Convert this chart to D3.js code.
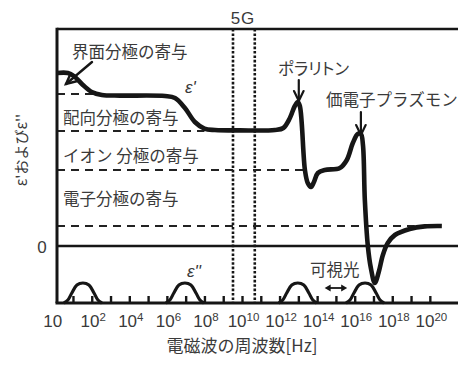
<!DOCTYPE html>
<html><head><meta charset="utf-8">
<script src="https://cdn.jsdelivr.net/npm/d3@7"></script>
<style>
html,body{margin:0;padding:0;background:#fff;}
svg{display:block;}
text{font-family:"Noto Sans CJK JP","Noto Sans",sans-serif;fill:#3a3a3a;}
</style></head><body>
<svg id="chart" width="458" height="365"></svg>
<script>
// Frequency axis is log10(f); values are in arbitrary permittivity units.
// ε' (real part) as [log10 f, value]
const epsReal = [
  [0.15, 8.65], [0.73, 8.65], [1.05, 8.5], [1.53, 8.05], [2.0, 7.7], [2.54, 7.55],
  [3.5, 7.52], [5.9, 7.5], [6.43, 7.4], [6.96, 6.9], [7.49, 6.2], [8.0, 5.87],
  [8.56, 5.8], [9.9, 5.78], [11.75, 5.8], [12.2, 5.9], [12.55, 6.4], [12.81, 7.0],
  [12.97, 7.2], [13.08, 7.0], [13.35, 3.8], [13.5, 3.15], [13.67, 2.95], [13.83, 3.2],
  [14.04, 3.65], [14.41, 3.8], [15.21, 3.9], [15.58, 4.3], [15.9, 5.15], [16.16, 5.6],
  [16.33, 5.6], [16.44, 5.05], [16.54, 2.3], [16.7, 0], [16.86, -1.1], [17.07, -1.85],
  [17.28, -1.3], [17.5, -0.45], [17.76, 0.15], [18.14, 0.55], [18.93, 0.85],
  [19.73, 0.98], [20.64, 1.0]
];
// ε'' (imaginary part) loss peaks, height above the baseline
const lossPeakInterface = [[0.52,0],[0.73,0.15],[0.94,0.5],[1.21,0.9],[1.53,1.0],[1.85,0.9],[2.12,0.5],[2.33,0.15],[2.54,0]];
const lossPeakDipole    = [[5.95,0],[6.16,0.15],[6.37,0.5],[6.64,0.9],[6.96,1.0],[7.28,0.9],[7.55,0.5],[7.76,0.15],[7.97,0]];
const lossPeakIonic     = [[11.96,0],[12.17,0.15],[12.38,0.5],[12.65,0.9],[12.97,1.0],[13.29,0.9],[13.56,0.5],[13.77,0.15],[13.98,0]];
const lossPeakElectron  = [[15.54,0],[15.75,0.15],[15.96,0.5],[16.23,0.9],[16.55,1.0],[16.87,0.9],[17.14,0.5],[17.35,0.15],[17.56,0]];

// contribution levels (dashed) and how far each runs along the axis
const levelValues = [7.6, 5.75, 3.8, 1.0];
const levelEnds   = [2.5, 8.0, 13.35, 19.2];
const levelNames  = ["界面分極の寄与", "配向分極の寄与", "イオン 分極の寄与", "電子分極の寄与"];

// 5G band edges
const band5G = [9.52, 10.68];

// axis ticks
const tickExps   = [0, 2, 4, 6, 8, 10, 12, 14, 16, 18, 20];
const tickLabels = ["10", "10^2", "10^4", "10^6", "10^8", "10^10", "10^12", "10^14", "10^16", "10^18", "10^20"];
const minorTickExps = d3.range(1, 21);
const polaritonPeak = [12.97, 7.2];
const plasmonPeak   = [16.33, 5.6];
const visibleRange  = [14.4, 15.6];

const plotLeft = 57, plotRight = 458, plotTop = 29, plotBottom = 303;
const yMin = -2.85;
const x = d3.scaleLinear().domain([0.15, 21.5]).range([plotLeft, plotRight]);
const y = d3.scaleLinear().domain([yMin, 10.85]).range([plotBottom, plotTop]);
const ink = "#161616";
const latin = "'Liberation Sans',Arial,sans-serif";

const svg = d3.select("#chart");

// 5G band
svg.append("g").selectAll("line").data(band5G).join("line")
  .attr("x1", d => x(d)).attr("x2", d => x(d))
  .attr("y1", plotTop).attr("y2", plotBottom)
  .attr("stroke", ink).attr("stroke-width", 2.6).attr("stroke-dasharray", "2.6,1.8");

// dashed contribution levels
svg.append("g").selectAll("line").data(levelValues).join("line")
  .attr("x1", plotLeft).attr("x2", (d, i) => x(levelEnds[i]))
  .attr("y1", d => y(d)).attr("y2", d => y(d))
  .attr("stroke", "#222").attr("stroke-width", 2).attr("stroke-dasharray", "8,6");

// zero line and frame
svg.append("line").attr("x1", plotLeft).attr("x2", plotRight).attr("y1", y(0)).attr("y2", y(0))
  .attr("stroke", ink).attr("stroke-width", 2.6);
svg.append("line").attr("x1", plotLeft).attr("x2", plotRight).attr("y1", plotTop).attr("y2", plotTop)
  .attr("stroke", ink).attr("stroke-width", 2.6);

// bottom axis with inward ticks
const xAxis = d3.axisBottom(x).tickValues(minorTickExps).tickSize(-7).tickFormat("");
const ax = svg.append("g").attr("transform", `translate(0,${plotBottom})`).call(xAxis);
ax.select(".domain").remove();
ax.selectAll(".tick line").attr("stroke", ink).attr("stroke-width", 2.4);
svg.append("line").attr("x1", plotLeft - 1.5).attr("x2", plotRight).attr("y1", plotBottom).attr("y2", plotBottom)
  .attr("stroke", ink).attr("stroke-width", 3);
svg.append("line").attr("x1", plotLeft).attr("x2", plotLeft).attr("y1", plotTop - 1.3).attr("y2", plotBottom)
  .attr("stroke", ink).attr("stroke-width", 3);

// tick labels with superscript exponents
svg.append("g").selectAll("text").data(tickExps).join("text")
  .attr("x", d => x(d) + (d ? 1.5 : -1.5)).attr("y", 326.5).attr("text-anchor", "middle")
  .attr("font-size", 17).style("font-family", latin)
  .each(function (d, i) {
    const [b, p] = tickLabels[i].split("^");
    const t = d3.select(this);
    t.append("tspan").text(b);
    if (p) t.append("tspan").attr("dy", -5.5).attr("font-size", 11.5).text(p);
  });

// ε'' loss peaks
const lossLine = d3.line().x(d => x(d[0])).y(d => y(yMin + d[1])).curve(d3.curveCatmullRom.alpha(0.5));
svg.append("g").selectAll("path")
  .data([lossPeakInterface, lossPeakDipole, lossPeakIonic, lossPeakElectron]).join("path")
  .attr("d", lossLine).attr("fill", "none").attr("stroke", ink).attr("stroke-width", 3.2);

// ε' curve
const realLine = d3.line().x(d => x(d[0])).y(d => y(d[1])).curve(d3.curveCatmullRom.alpha(0.5));
svg.append("path").datum(epsReal).attr("d", realLine)
  .attr("fill", "none").attr("stroke", ink).attr("stroke-width", 4.6)
  .attr("stroke-linejoin", "round").attr("stroke-linecap", "butt");

// arrows
function arrow(x1, y1, x2, y2, len, w) {
  const a = Math.atan2(y2 - y1, x2 - x1);
  const g = svg.append("g").attr("stroke", ink).attr("stroke-width", w).attr("fill", "none")
    .attr("stroke-linecap", "round");
  g.append("line").attr("x1", x1).attr("y1", y1).attr("x2", x2).attr("y2", y2);
  const p = s => [x2 - len * Math.cos(a + s), y2 - len * Math.sin(a + s)];
  g.append("path").attr("d", d3.line()([p(0.45), [x2, y2], p(-0.45)]));
}
arrow(92, 62, 66, 84, 11, 2.4);
arrow(x(polaritonPeak[0]) + 1, 80, x(polaritonPeak[0]) + 1, y(polaritonPeak[1]) - 1, 11, 2.2);
arrow(x(plasmonPeak[0]), 112, x(plasmonPeak[0]), y(plasmonPeak[1]) + 1, 11, 2.2);

// visible-light double arrow
const vx1 = x(visibleRange[0]), vx2 = x(visibleRange[1]), vy = 288;
svg.append("line").attr("x1", vx1 + 4).attr("x2", vx2 - 4).attr("y1", vy).attr("y2", vy)
  .attr("stroke", ink).attr("stroke-width", 1.8);
svg.append("path").attr("fill", ink)
  .attr("d", `M${vx1},${vy} l6,-3.5 v7 Z M${vx2},${vy} l-6,-3.5 v7 Z`);

// labels
const lab = (tx, ty, s, size, anchor) => svg.append("text").attr("x", tx).attr("y", ty)
  .attr("font-size", size || 16.5).attr("text-anchor", anchor || "start")
  .attr("dominant-baseline", "central").text(s);
lab(72, 50.5, levelNames[0]);
lab(63, 116.5, levelNames[1]);
lab(63, 154.5, levelNames[2]);
lab(63, 197.5, levelNames[3]);
lab(278, 67.5, "ポラリトン").style("font-feature-settings", "'palt'");
lab(326, 98.5, "価電子プラズモン");
lab(310, 268.5, "可視光");
lab(243, 18.5, "5G", 17, "middle").style("font-family", latin).style("letter-spacing", "1px");
lab(42, 247.5, "0", 17, "middle").style("font-family", latin);
lab(242, 344.5, "電磁波の周波数[Hz]", 17, "middle");

// ε' and ε'' symbols
svg.append("text").attr("x", 185).attr("y", 93).attr("font-size", 17).attr("font-style", "italic")
  .style("font-family", latin).text("ε'");
svg.append("text").attr("x", 187).attr("y", 277).attr("font-size", 17).attr("font-style", "italic")
  .style("font-family", latin).text("ε''");

// y title
svg.append("text").attr("transform", "translate(20,150) rotate(-90)")
  .attr("text-anchor", "middle").attr("dominant-baseline", "central")
  .attr("font-size", 15).text("ε'およびε''");
</script>
</body></html>
